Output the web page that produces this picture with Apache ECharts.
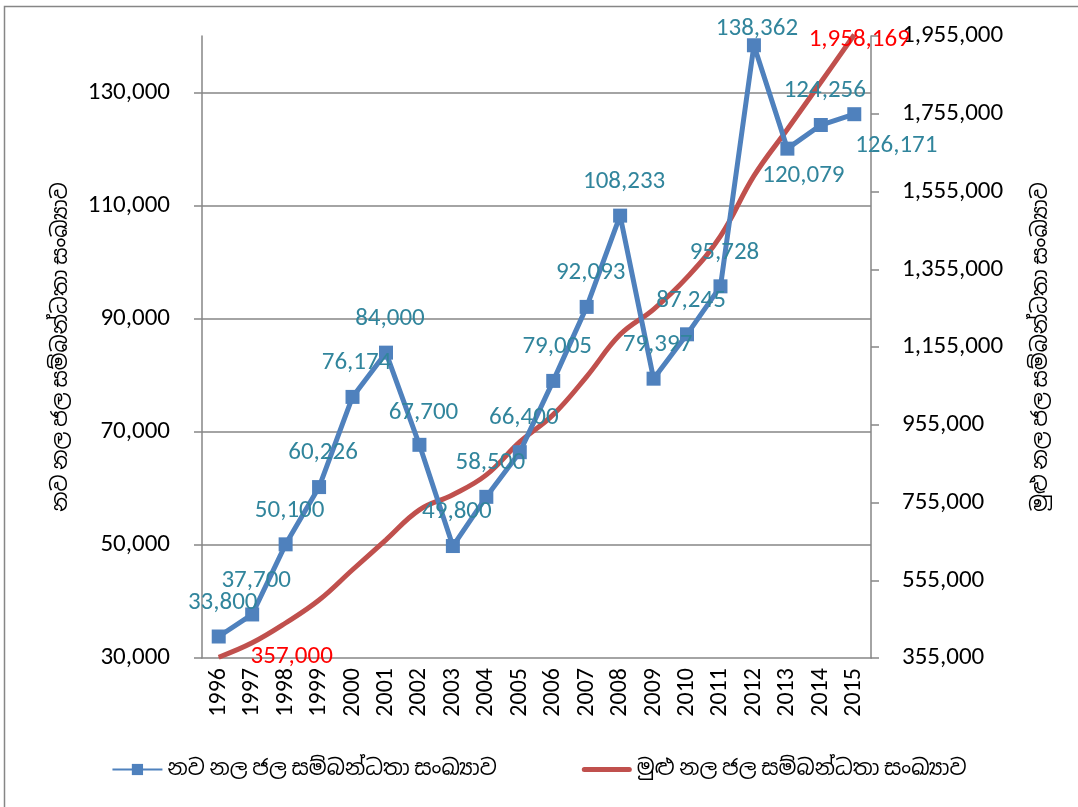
<!DOCTYPE html>
<html>
<head>
<meta charset="utf-8">
<script src="https://cdn.jsdelivr.net/npm/echarts@6/dist/echarts.min.js"></script>
<style>
  html, body { margin: 0; padding: 0; background: #fff; }
  #main { width: 1078px; height: 807px; }
</style>
</head>
<body>
<div id="main"></div>
<script>
// years on the category axis
var years = ['1996', '1997', '1998', '1999', '2000', '2001', '2002', '2003', '2004', '2005',
  '2006', '2007', '2008', '2009', '2010', '2011', '2012', '2013', '2014', '2015'];
// new pipe connections (left axis)
var newConn = [33800, 37700, 50100, 60226, 76174, 84000, 67700, 49800, 58500, 66400,
  79005, 92093, 108233, 79397, 87245, 95728, 138362, 120079, 124256, 126171];
// total pipe connections (right axis), only first and last are labelled in the source
var totalConn = [357000, 394000, 445000, 504000, 582000, 659000, 736000, 775000, 826000, 911000,
  981000, 1079000, 1187000, 1252000, 1334000, 1440000, 1595000, 1715000, 1836000, 1958169];

var newName = 'නව නල ජල සම්බන්ධතා සංඛ්‍යාව';
var totalName = 'මුළු නල ජල සම්බන්ධතා සංඛ්‍යාව';

var FONT = 'Carlito, Lato, "Noto Sans", "Noto Sans Sinhala", sans-serif';
var GRAY = '#868686';

// label nudges, Excel moved a few of them around
var blueOffsets = {6: [4, -32], 16: [3, -17], 17: [16, 27], 19: [42, 32]};
var redOffsets = {0: [73, 0], 19: [5, 5]};

function fmt(v) {
  return v.toString().replace(/\B(?=(\d{3})+(?!\d))/g, ',');
}

var blueData = newConn.map(function (v, i) {
  return {
    value: v,
    label: {offset: blueOffsets[i] || [4, -34]}
  };
});
// red line has no markers, only the two labelled points get an invisible one
var redData = totalConn.map(function (v, i) {
  var d = {value: v};
  if (redOffsets[i]) {
    d.symbol = 'circle';
    d.symbolSize = 1;
    d.label = {show: true, offset: redOffsets[i]};
  }
  return d;
});

var chart = echarts.init(document.getElementById('main'));
var option = {
  animation: false,
  textStyle: {fontFamily: FONT},
  graphic: [{
    type: 'rect',
    shape: {x: 4.5, y: 6.5, width: 1100, height: 850},
    style: {fill: 'none', stroke: GRAY, lineWidth: 1.5},
    silent: true
  }],
  grid: {left: 202, right: 207, top: 36, bottom: 149},
  legend: {
    bottom: 22,
    itemWidth: 50,
    itemHeight: 14,
    itemGap: 85,
    symbolKeepAspect: true,
    textStyle: {fontFamily: FONT, fontSize: 21, color: '#000'},
    data: [
      newName,
      {name: totalName, icon: 'path://M2.5,0 L47.5,0 A2.5,2.5 0 0 1 47.5,5 L2.5,5 A2.5,2.5 0 0 1 2.5,0 Z'}
    ]
  },
  xAxis: {
    type: 'category',
    data: years,
    boundaryGap: true,
    axisLine: {lineStyle: {color: GRAY, width: 1.5}},
    axisTick: {length: 8, lineStyle: {color: GRAY, width: 1.5}},
    axisLabel: {rotate: 90, interval: 0, margin: 10, color: '#000', fontSize: 24, fontFamily: FONT}
  },
  yAxis: [{
    type: 'value',
    min: 30000,
    max: 140000,
    interval: 20000,
    name: newName,
    nameLocation: 'middle',
    nameRotate: 90,
    nameGap: 130,
    nameTextStyle: {fontSize: 21, color: '#000', fontFamily: FONT},
    axisLine: {show: true, lineStyle: {color: GRAY, width: 1.5}},
    axisTick: {show: true, length: 8, lineStyle: {color: GRAY, width: 1.5}},
    axisLabel: {
      margin: 32, color: '#000', fontSize: 25, fontFamily: FONT, showMaxLabel: false,
      formatter: fmt
    },
    splitLine: {show: true, showMaxLine: false, showMinLine: false, lineStyle: {color: GRAY, width: 1.5}}
  }, {
    type: 'value',
    min: 355000,
    max: 1955000,
    interval: 200000,
    position: 'right',
    name: totalName,
    nameLocation: 'middle',
    nameRotate: 90,
    nameGap: 160,
    nameTextStyle: {fontSize: 21, color: '#000', fontFamily: FONT},
    axisLine: {show: true, lineStyle: {color: GRAY, width: 1.5}},
    axisTick: {show: true, length: 8, lineStyle: {color: GRAY, width: 1.5}},
    axisLabel: {margin: 31, color: '#000', fontSize: 25, fontFamily: FONT, formatter: fmt},
    splitLine: {show: false}
  }],
  series: [{
    name: newName,
    type: 'line',
    yAxisIndex: 0,
    data: blueData,
    symbol: 'rect',
    symbolSize: 14,
    lineStyle: {color: '#4f81bd', width: 5},
    itemStyle: {color: '#4f81bd'},
    label: {
      show: true,
      position: 'inside',
      align: 'center',
      verticalAlign: 'middle',
      color: '#31859c',
      fontSize: 25,
      fontFamily: FONT,
      formatter: function (p) { return fmt(p.value); }
    },
    z: 3
  }, {
    name: totalName,
    type: 'line',
    yAxisIndex: 1,
    data: redData,
    smooth: 0.4,
    clip: false,
    symbol: 'none',
    lineStyle: {color: '#c0504d', width: 5},
    itemStyle: {color: '#c0504d'},
    label: {
      show: false,
      position: 'inside',
      align: 'center',
      verticalAlign: 'middle',
      color: '#ff0000',
      fontSize: 25,
      fontFamily: FONT,
      formatter: function (p) { return fmt(p.value); }
    },
    z: 2
  }]
};
chart.setOption(option);
</script>
</body>
</html>
